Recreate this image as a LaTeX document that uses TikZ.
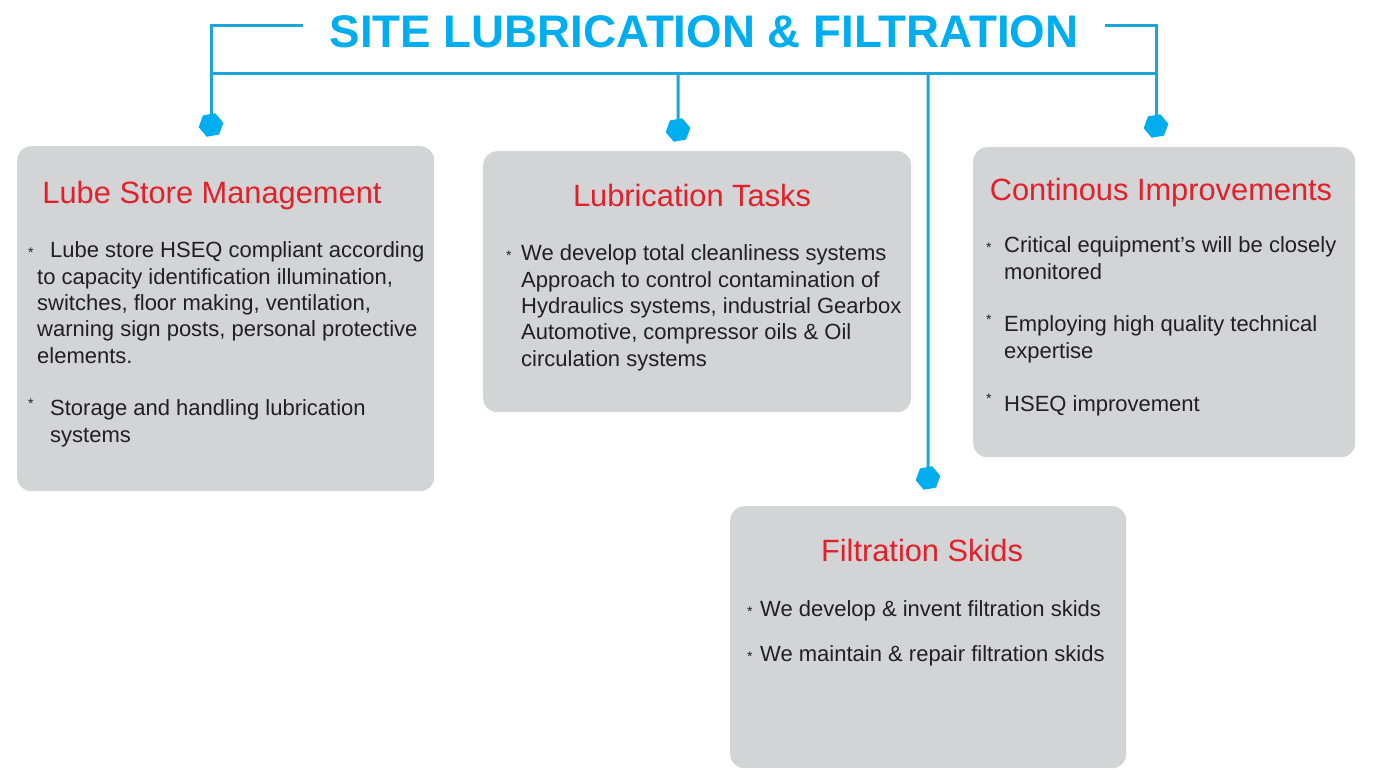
\documentclass[tikz,border=0pt]{standalone}
\usepackage{fontspec}
\setmainfont{Liberation Sans}
\usetikzlibrary{positioning,shapes.geometric}
\definecolor{sitecyan}{HTML}{00AEEF}
\definecolor{linkblue}{HTML}{1DA5DA}
\definecolor{headred}{HTML}{E3202A}
\definecolor{panelgray}{HTML}{D3D4D6}
\definecolor{bodyink}{HTML}{231F20}
\tikzset{
  panel/.style={rounded corners=14pt, fill=panelgray, draw=none, anchor=north west, inner sep=0pt},
  heading/.style={text=headred, font=\fontsize{30.8}{36}\selectfont, anchor=base, inner sep=0pt},
  body/.style={text=bodyink, font=\fontsize{22}{26.3}\selectfont, align=left, anchor=base west, inner sep=0pt},
  link/.style={draw=linkblue, line width=3pt},
  knob/.style={regular polygon, regular polygon sides=6, rotate=10, fill=sitecyan, minimum size=25pt, inner sep=0pt}
}
\newcommand{\dtmark}{\raisebox{0pt}{\fontsize{14}{14}\selectfont *}}
\newcommand{\stmark}{\raisebox{7.5pt}{\fontsize{14}{14}\selectfont *}}

\begin{document}
\begin{tikzpicture}[x=1pt, y=-1pt]
  \useasboundingbox (0,0) rectangle (1380,769);
  % title and bracket
  \node[text=sitecyan, font=\fontsize{45.7}{50}\bfseries, anchor=base, inner sep=0pt] (title) at (704,47) {SITE LUBRICATION \& FILTRATION};
  \coordinate (tl) at (303,25);
  \coordinate (tr) at (1105,25);
  \node[knob] (k1) at (211,125) {};
  \node[knob] (k2) at (678,130) {};
  \node[knob] (k3) at (1156,126) {};
  \node[knob] (k4) at (928,478) {};
  \coordinate (barL) at (211,73);
  \coordinate (barR) at (1156,73);
  \draw[link] (tl) -| (k1);
  \draw[link] (tr) -| (k3);
  \draw[link] (barL) -- (barR);
  \draw[link] (k2 |- barL) -- (k2);
  \draw[link] (k4 |- barL) -- (k4);

  % panels
  \node[panel, minimum width=417pt, minimum height=345pt] (lube) at (17,146) {};
  \node[panel, minimum width=428pt, minimum height=261pt] (tasks) at (483,151) {};
  \node[panel, minimum width=382pt, minimum height=310pt] (improve) at (973,147) {};
  \node[panel, minimum width=396pt, minimum height=262pt] (skids) at (730,506) {};

  % headings
  \node[heading] (lubeH) at (212,203) {Lube Store Management};
  \node[heading] (tasksH) at (692,206) {Lubrication Tasks};
  \node[heading] (improveH) at (1161,200) {Continous Improvements};
  \node[heading] (skidsH) at (922,561) {Filtration Skids};

  % bullet texts (base = last line)
  \node[body] (lubeA) at (28,363) {\makebox[22pt][l]{\dtmark}Lube store HSEQ compliant according\\
    \hspace*{9pt}to capacity identification illumination,\\
    \hspace*{9pt}switches, floor making, ventilation,\\
    \hspace*{9pt}warning sign posts, personal protective\\
    \hspace*{9pt}elements.};
  \node[body] (lubeB) at (28,442) {\makebox[22pt][l]{\stmark}Storage and handling lubrication\\
    \hspace*{22pt}systems};
  \node[body] (tasksA) at (506,366) {\makebox[15pt][l]{\dtmark}We develop total cleanliness systems\\
    \hspace*{15pt}Approach to control contamination of\\
    \hspace*{15pt}Hydraulics systems, industrial Gearbox\\
    \hspace*{15pt}Automotive, compressor oils \& Oil\\
    \hspace*{15pt}circulation systems};
  \node[body] (improveA) at (986,279) {\makebox[18pt][l]{\dtmark}Critical equipment’s will be closely\\
    \hspace*{18pt}monitored};
  \node[body] (improveB) at (986,358) {\makebox[18pt][l]{\stmark}Employing high quality technical\\
    \hspace*{18pt}expertise};
  \node[body] (improveC) at (986,411) {\makebox[18pt][l]{\stmark}HSEQ improvement};
  \node[body] (skidsA) at (747,616) {\makebox[13pt][l]{\dtmark}We develop \& invent filtration skids};
  \node[body] (skidsB) at (747,661) {\makebox[13pt][l]{\dtmark}We maintain \& repair filtration skids};
\end{tikzpicture}
\end{document}
